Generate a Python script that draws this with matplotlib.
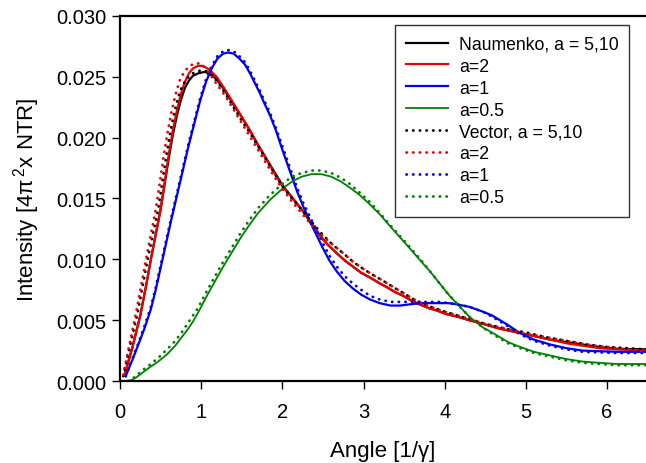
import matplotlib
matplotlib.use('Agg')
import matplotlib.pyplot as plt
from matplotlib.ticker import FormatStrFormatter

plt.rcParams['font.family'] = ['Liberation Sans', 'DejaVu Sans']
plt.rcParams['mathtext.fontset'] = 'custom'
plt.rcParams['mathtext.rm'] = 'Liberation Sans'

# ---- Naumenko (solid) ----
x_nau_510 = [0.06, 0.15, 0.25, 0.32, 0.38, 0.5, 0.55, 0.6, 0.65, 0.7, 0.75, 0.8, 0.85, 0.9,
             0.97, 1.04, 1.1, 1.19, 1.29, 1.39, 1.5, 1.6, 1.7, 1.8, 1.9, 2.0, 2.13, 2.26,
             2.36, 2.46, 2.56, 2.67, 2.77, 2.87, 2.97, 3.08, 3.18, 3.29, 3.39, 3.49, 3.59,
             3.69, 3.8, 3.9, 4.02, 4.15, 4.3, 4.47, 4.68, 4.89, 5.1, 5.3, 5.5, 5.7, 5.9,
             6.12, 6.5]
y_nau_510 = [0.0006, 0.0027, 0.0054, 0.0078, 0.0100, 0.0141, 0.0162, 0.0183, 0.0202, 0.0218,
             0.0231, 0.0241, 0.0247, 0.0251, 0.0253, 0.0254, 0.0253, 0.0248, 0.0239, 0.0228,
             0.0217, 0.0206, 0.0194, 0.0183, 0.0172, 0.0161, 0.0150, 0.0139, 0.0129, 0.0120,
             0.0112, 0.0105, 0.0099, 0.0094, 0.0089, 0.0085, 0.0081, 0.0077, 0.0073, 0.0070,
             0.0066, 0.0063, 0.0060, 0.0058, 0.0055, 0.0053, 0.0050, 0.0047, 0.0043, 0.0040,
             0.0037, 0.0034, 0.0032, 0.0030, 0.0028, 0.00265, 0.0026]

x_nau_2 = [0.06, 0.15, 0.25, 0.32, 0.38, 0.5, 0.55, 0.6, 0.65, 0.7, 0.75, 0.8, 0.85, 0.9,
           0.96, 1.02, 1.1, 1.19, 1.29, 1.39, 1.5, 1.6, 1.7, 1.8, 1.9, 2.0, 2.13, 2.26,
           2.36, 2.46, 2.56, 2.67, 2.77, 2.87, 2.97, 3.08, 3.18, 3.29, 3.39, 3.49, 3.59,
           3.69, 3.8, 3.9, 4.02, 4.15, 4.3, 4.47, 4.68, 4.89, 5.1, 5.3, 5.5, 5.7, 5.9,
           6.12, 6.5]
y_nau_2 = [0.0006, 0.0027, 0.0054, 0.0078, 0.0100, 0.0141, 0.0163, 0.0186, 0.0206, 0.0222,
           0.0236, 0.0246, 0.0253, 0.0257, 0.0259, 0.0259, 0.0256, 0.0250, 0.0240, 0.0229,
           0.0217, 0.0206, 0.0194, 0.0183, 0.0171, 0.0160, 0.0150, 0.0139, 0.0129, 0.0119,
           0.0112, 0.0105, 0.0099, 0.0094, 0.0089, 0.0085, 0.0081, 0.0077, 0.0073, 0.0070,
           0.0066, 0.0063, 0.0060, 0.0058, 0.0055, 0.0053, 0.0050, 0.0047, 0.0043, 0.0040,
           0.0037, 0.0034, 0.0031, 0.0029, 0.0027, 0.0026, 0.0025]

x_nau_1 = [0.07, 0.15, 0.22, 0.3, 0.38, 0.44, 0.5, 0.57, 0.63, 0.7, 0.77, 0.84, 0.92, 0.99,
           1.06, 1.13, 1.2, 1.27, 1.33, 1.4, 1.47, 1.54, 1.6, 1.66, 1.72, 1.78, 1.85, 1.92,
           2.0, 2.09, 2.18, 2.26, 2.34, 2.42, 2.5, 2.58, 2.67, 2.77, 2.87, 2.97, 3.08, 3.2,
           3.33, 3.45, 3.57, 3.7, 3.82, 3.95, 4.05, 4.15, 4.3, 4.47, 4.58, 4.68, 4.78,
           4.89, 5.0, 5.1, 5.2, 5.3, 5.5, 5.7, 6.12, 6.5]
y_nau_1 = [0.0004, 0.0017, 0.0029, 0.0043, 0.0059, 0.0075, 0.0093, 0.0114, 0.0132, 0.0152,
           0.0172, 0.0192, 0.0213, 0.0231, 0.0246, 0.0257, 0.0265, 0.0269, 0.0270, 0.0269,
           0.0265, 0.0260, 0.0253, 0.0245, 0.0237, 0.0228, 0.0218, 0.0206, 0.0190, 0.0173,
           0.0156, 0.0143, 0.0131, 0.0120, 0.0109, 0.0099, 0.0090, 0.0082, 0.0076, 0.0071,
           0.0067, 0.0064, 0.0062, 0.0062, 0.0063, 0.0064, 0.0064, 0.0064, 0.0064, 0.0063,
           0.0061, 0.0057, 0.0054, 0.0050, 0.0046, 0.0041, 0.0037, 0.0034, 0.0032, 0.0030,
           0.0027, 0.0025, 0.0024, 0.0024]

x_nau_05 = [0.1, 0.15, 0.2, 0.26, 0.36, 0.47, 0.58, 0.68, 0.76, 0.84, 0.9, 0.96, 1.07, 1.17,
            1.28, 1.38, 1.48, 1.58, 1.7, 1.85, 2.0, 2.12, 2.24, 2.36, 2.48, 2.6, 2.72,
            2.83, 2.95, 3.08, 3.2, 3.33, 3.45, 3.57, 3.7, 3.82, 3.94, 4.06, 4.16, 4.3,
            4.47, 4.58, 4.68, 4.78, 4.89, 5.1, 5.3, 5.5, 5.7, 5.9, 6.12, 6.5]
y_nau_05 = [0.0, 0.0001, 0.0003, 0.0006, 0.0011, 0.0016, 0.0022, 0.0029, 0.0036, 0.0043,
            0.0049, 0.0056, 0.0070, 0.0082, 0.0095, 0.0106, 0.0117, 0.0127, 0.0138, 0.0149,
            0.0158, 0.0164, 0.0168, 0.0170, 0.0170, 0.0168, 0.0164, 0.0159, 0.0153, 0.0145,
            0.0137, 0.0127, 0.0118, 0.0109, 0.0099, 0.0090, 0.0080, 0.0070, 0.0063, 0.0053,
            0.0044, 0.0040, 0.0036, 0.0032, 0.0029, 0.0024, 0.0021, 0.0018, 0.0016, 0.0015,
            0.0014, 0.0014]

# ---- Vector (dotted) ----
x_vec_510 = [0.04, 0.12, 0.22, 0.34, 0.47, 0.52, 0.57, 0.62, 0.67, 0.72, 0.77, 0.83, 0.9,
             0.98, 1.05, 1.12, 1.2, 1.3, 1.4, 1.5, 1.6, 1.7, 1.8, 1.9, 2.0, 2.12, 2.25,
             2.37, 2.5, 2.62, 2.75, 2.87, 3.0, 3.12, 3.25, 3.37, 3.5, 3.62, 3.75, 3.87, 4.0,
             4.25, 4.5, 4.75, 5.0, 5.25, 5.5, 5.75, 6.0, 6.25, 6.5]
y_vec_510 = [0.0004, 0.0028, 0.0057, 0.0100, 0.0141, 0.0163, 0.0185, 0.0205, 0.0221, 0.0234,
             0.0243, 0.0249, 0.0253, 0.0255, 0.0255, 0.0252, 0.0246, 0.0236, 0.0225, 0.0214,
             0.0204, 0.0193, 0.0182, 0.0171, 0.0160, 0.0150, 0.0140, 0.0130, 0.0120, 0.0112,
             0.0105, 0.0098, 0.0092, 0.0087, 0.0082, 0.0077, 0.0072, 0.0067, 0.0063, 0.0060,
             0.0057, 0.0052, 0.0047, 0.0043, 0.0040, 0.0036, 0.0033, 0.0030, 0.0028, 0.0027,
             0.0026]

x_vec_2 = [0.04, 0.1, 0.2, 0.32, 0.44, 0.49, 0.54, 0.59, 0.64, 0.69, 0.74, 0.8, 0.86, 0.92,
           0.98, 1.04, 1.1, 1.18, 1.3, 1.4, 1.5, 1.6, 1.7, 1.8, 1.9, 2.0, 2.1, 2.2, 2.3, 2.4,
           2.5, 2.62, 2.75, 2.87, 3.0, 3.12, 3.25, 3.37, 3.5, 3.62, 3.75, 3.87, 4.0, 4.25,
           4.5, 4.75, 5.0, 5.25, 5.5, 5.75, 6.0, 6.25, 6.5]
y_vec_2 = [0.0005, 0.0025, 0.0057, 0.0100, 0.0141, 0.0163, 0.0186, 0.0206, 0.0223, 0.0237,
           0.0248, 0.0255, 0.0259, 0.0261, 0.0261, 0.0258, 0.0253, 0.0245, 0.0234, 0.0223,
           0.0212, 0.0201, 0.0190, 0.0179, 0.0168, 0.0158, 0.0149, 0.0141, 0.0133, 0.0125,
           0.0119, 0.0112, 0.0105, 0.0098, 0.0092, 0.0087, 0.0082, 0.0077, 0.0072, 0.0067,
           0.0063, 0.0060, 0.0057, 0.0052, 0.0047, 0.0043, 0.0039, 0.0036, 0.0033, 0.0030,
           0.0028, 0.0026, 0.0024]

x_vec_1 = x_nau_1
y_vec_1 = [0.0004, 0.0018, 0.0030, 0.0045, 0.0061, 0.0077, 0.0095, 0.0116, 0.0134, 0.0154,
           0.0174, 0.0194, 0.0215, 0.0233, 0.0248, 0.0259, 0.0267, 0.0271, 0.0272, 0.0271,
           0.0267, 0.0262, 0.0255, 0.0247, 0.0239, 0.0230, 0.0220, 0.0208, 0.0193, 0.0176,
           0.0159, 0.0146, 0.0135, 0.0124, 0.0113, 0.0103, 0.0094, 0.0086, 0.0080, 0.0075,
           0.0070, 0.0067, 0.0065, 0.0065, 0.0065, 0.0065, 0.0065, 0.0065, 0.0064, 0.0063,
           0.0061, 0.0057, 0.0053, 0.0049, 0.0045, 0.0040, 0.0036, 0.0033, 0.0031, 0.0029,
           0.0026, 0.0024, 0.0023, 0.0023]

x_vec_05 = x_nau_05
y_vec_05 = [0.0, 0.0002, 0.0004, 0.0008, 0.0013, 0.0019, 0.0026, 0.0033, 0.0040, 0.0048,
            0.0054, 0.0060, 0.0074, 0.0086, 0.0099, 0.0110, 0.0121, 0.0131, 0.0142, 0.0153,
            0.0162, 0.0168, 0.0171, 0.0173, 0.0173, 0.0171, 0.0167, 0.0162, 0.0155, 0.0147,
            0.0138, 0.0128, 0.0119, 0.0110, 0.0100, 0.0090, 0.0080, 0.0070, 0.0063, 0.0053,
            0.0044, 0.0039, 0.0035, 0.0031, 0.0028, 0.0023, 0.0020, 0.0017, 0.0015, 0.0014,
            0.0013, 0.0013]

labels = ['Naumenko, a = 5,10', 'a=2', 'a=1', 'a=0.5',
          'Vector, a = 5,10', 'a=2', 'a=1', 'a=0.5']
colors = ['black', '#ee0000', '#0000ee', '#008000']

fig = plt.figure(figsize=(6.46, 4.64), dpi=100)
ax = fig.add_axes([0.1858, 0.1767, 0.8142, 0.7867])

solid = [(x_nau_510, y_nau_510), (x_nau_2, y_nau_2), (x_nau_1, y_nau_1), (x_nau_05, y_nau_05)]
dotted = [(x_vec_510, y_vec_510), (x_vec_2, y_vec_2), (x_vec_1, y_vec_1), (x_vec_05, y_vec_05)]

for i, (xs, ys) in enumerate(solid):
    ax.plot(xs, ys, color=colors[i], lw=1.6 if i < 3 else 1.3, label=labels[i])
for i, (xs, ys) in enumerate(dotted):
    ax.plot(xs, ys, color=colors[i], lw=2.0, linestyle=(0, (0.1, 2.3)),
            dash_capstyle='round', label=labels[4 + i])

ax.set_xlim(0, 6.48)
ax.set_ylim(0, 0.030)
ax.set_xticks(range(0, 7))
ax.set_yticks([0.0, 0.005, 0.010, 0.015, 0.020, 0.025, 0.030])
ax.yaxis.set_major_formatter(FormatStrFormatter('%.3f'))

for side in ['left', 'bottom', 'top']:
    ax.spines[side].set_linewidth(1.6)
ax.spines['right'].set_visible(False)
ax.tick_params(direction='out', length=6, width=1.0, labelsize=14.5)
ax.tick_params(axis='x', pad=9)
ax.tick_params(axis='y', pad=4)

ax.set_xlabel('Angle [1/γ]', fontsize=16, labelpad=14)
ax.set_ylabel('Intensity [4π$^{\\,2}$x NTR]', fontsize=16, labelpad=10)

leg = ax.legend(loc='upper right', bbox_to_anchor=(0.968, 0.975), fontsize=12.7,
                frameon=True, fancybox=False, framealpha=1, edgecolor='#333333',
                handlelength=2.4, handletextpad=0.6, labelspacing=0.28,
                borderpad=0.6, borderaxespad=0)
leg.get_frame().set_linewidth(1.0)

fig.savefig('out.png', dpi=100)
